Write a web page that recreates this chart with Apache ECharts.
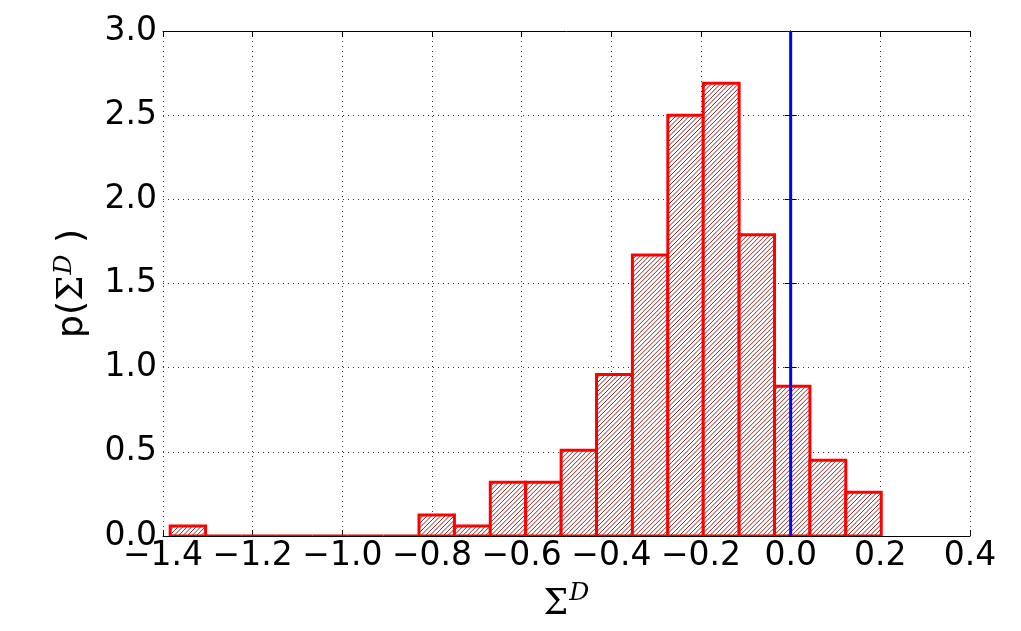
<!DOCTYPE html>
<html>
<head>
<meta charset="utf-8">
<script src="https://cdn.jsdelivr.net/npm/echarts@6/dist/echarts.min.js"></script>
<style>
  html, body { margin: 0; padding: 0; background: #fff; }
  #chart { width: 1021px; height: 631px; }
</style>
</head>
<body>
<div id="chart"></div>
<script>
// histogram bin edges (21) and bar heights (20)
const binEdges = [-1.384, -1.305, -1.225, -1.146, -1.067, -0.988, -0.908, -0.829, -0.750, -0.670,
  -0.591, -0.512, -0.433, -0.353, -0.274, -0.195, -0.115, -0.036, 0.043, 0.123, 0.202];
const heights = [0.06, 0, 0, 0, 0, 0, 0, 0.125, 0.06, 0.32,
  0.32, 0.51, 0.96, 1.67, 2.50, 2.69, 1.79, 0.89, 0.45, 0.26];
const refLineX = [0, 0];
const refLineY = [0, 3];

const chart = echarts.init(document.getElementById('chart'));

const histData = heights.map((h, i) => [binEdges[i], binEdges[i + 1], h]);

const fmt = v => {
  const s = Math.abs(v).toFixed(1);
  return (v < -1e-9 ? '\u2212' : '') + s;
};

const tickFont = { fontFamily: 'DejaVu Sans', fontSize: 33, color: '#000' };

// hatch "////": diagonal lines clipped to the bar rect
function hatchLines(x, y, w, h, step) {
  const lines = [];
  for (let k = step; k < w + h; k += step) {
    lines.push({
      type: 'line',
      shape: { x1: x + k - h, y1: y + h, x2: x + k, y2: y },
      style: { stroke: '#8c2424', lineWidth: 1 },
      silent: true
    });
  }
  return lines;
}

chart.setOption({
  animation: false,
  grid: { left: 163, right: 51, top: 31, bottom: 95 },
  xAxis: [{
    type: 'value', min: -1.4, max: 0.4, interval: 0.2,
    axisLine: { show: true, onZero: false, lineStyle: { color: '#000', width: 1 } },
    axisTick: { show: true, inside: true, length: 6, lineStyle: { color: '#000' } },
    axisLabel: Object.assign({ margin: 4, formatter: fmt }, tickFont),
    splitLine: { show: true, lineStyle: { color: '#333', type: [1, 4], width: 1 } },
    name: '{s|\u03A3}{d|D}', nameLocation: 'middle', nameGap: 45,
    nameTextStyle: {
      rich: {
        s: { fontFamily: 'DejaVu Serif', fontSize: 35, color: '#000', verticalAlign: 'bottom' },
        d: { fontFamily: 'DejaVu Serif', fontStyle: 'italic', fontSize: 25, color: '#000', verticalAlign: 'top', padding: [0, 0, 16, 1] }
      }
    }
  }, {
    type: 'value', min: -1.4, max: 0.4, interval: 0.2, position: 'top',
    axisLine: { show: true, onZero: false, lineStyle: { color: '#000' } },
    axisTick: { show: true, inside: true, length: 6, lineStyle: { color: '#000' } },
    axisLabel: { show: false }, splitLine: { show: false }
  }],
  yAxis: [{
    type: 'value', min: 0, max: 3, interval: 0.5,
    axisLine: { show: true, lineStyle: { color: '#000', width: 1 } },
    axisTick: { show: true, inside: true, length: 6, lineStyle: { color: '#000' } },
    axisLabel: Object.assign({ margin: 6, formatter: v => v.toFixed(1) }, tickFont),
    splitLine: { show: true, lineStyle: { color: '#333', type: [1, 4], width: 1 } },
    name: '{p|p(}{s|\u03A3}{d|D}{p| )}', nameLocation: 'middle', nameGap: 70, nameRotate: 90,
    nameTextStyle: {
      rich: {
        p: { fontFamily: 'DejaVu Sans', fontSize: 36, color: '#000' },
        s: { fontFamily: 'DejaVu Serif', fontSize: 36, color: '#000' },
        d: { fontFamily: 'DejaVu Serif', fontStyle: 'italic', fontSize: 25, color: '#000', verticalAlign: 'top', padding: [0, 0, 16, 1] }
      }
    }
  }, {
    type: 'value', min: 0, max: 3, interval: 0.5, position: 'right',
    axisLine: { show: true, lineStyle: { color: '#000' } },
    axisTick: { show: true, inside: true, length: 6, lineStyle: { color: '#000' } },
    axisLabel: { show: false }, splitLine: { show: false }
  }],
  series: [{
    type: 'custom',
    clip: true,
    data: histData,
    encode: { x: [0, 1], y: 2 },
    renderItem: (params, api) => {
      const p0 = api.coord([api.value(0), api.value(2)]);
      const p1 = api.coord([api.value(1), 0]);
      const x = p0[0], y = p0[1], w = p1[0] - p0[0], h = p1[1] - p0[1];
      return {
        type: 'group',
        children: [
          { type: 'rect', shape: { x, y, width: w, height: h }, style: { fill: '#fff' } },
          {
            type: 'group',
            clipPath: { type: 'rect', shape: { x, y, width: w, height: h } },
            children: hatchLines(x, y, w, h, 4.5)
          },
          { type: 'rect', shape: { x, y, width: w, height: h }, style: { fill: 'none', stroke: '#ff0000', lineWidth: 3 } }
        ]
      };
    }
  }, {
    type: 'line',
    data: refLineX.map((x, i) => [x, refLineY[i]]),
    symbol: 'none',
    lineStyle: { color: '#0000ff', width: 3 },
    z: 5
  }]
});
</script>
</body>
</html>
